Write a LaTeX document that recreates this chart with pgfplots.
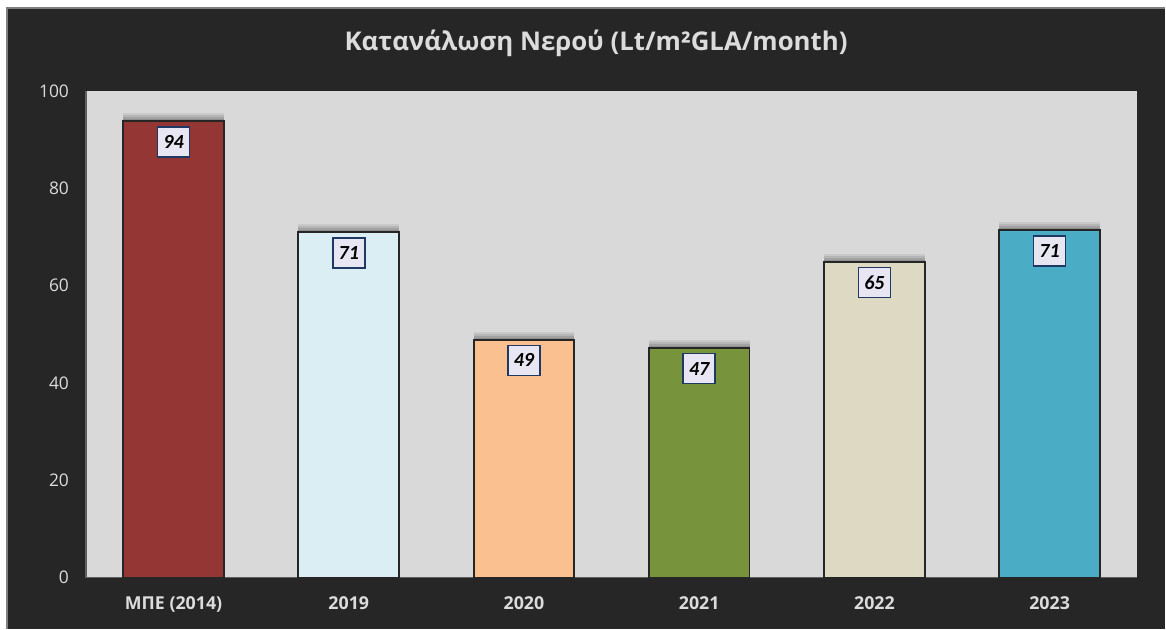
\documentclass[border=0pt]{standalone}
\usepackage{fontspec}
\setmainfont{Open Sans}
\newfontfamily\labelfont{Carlito}
\usepackage{pgfplots}
\pgfplotsset{compat=1.18}
\definecolor{bgdark}{HTML}{262626}
\definecolor{plotbg}{HTML}{D9D9D9}
\definecolor{txt}{HTML}{DCDCDC}
\definecolor{cA}{HTML}{943634}
\definecolor{cB}{HTML}{DAEEF3}
\definecolor{cC}{HTML}{FAC090}
\definecolor{cD}{HTML}{77933C}
\definecolor{cE}{HTML}{DDD9C3}
\definecolor{cF}{HTML}{4BACC6}
\definecolor{lblfill}{HTML}{E8E6F2}
\definecolor{lbldraw}{HTML}{1F3864}
\begin{document}
\begin{tikzpicture}[x=1pt,y=1pt]
% pixel (px,py) -> ((px-86)/2, (578-py)/2) pt
\fill[white] (-43,-25.5) rectangle (540,289);
\fill[bgdark] (-39.5,-25.5) rectangle (540,285);
\draw[gray, line width=0.8pt] (-39.5,-25.5) -- (-39.5,285) -- (540,285);
\useasboundingbox (-43,-25.5) rectangle (540,289);
\begin{axis}[
  at={(0,0)}, anchor=south west,
  scale only axis, width=526pt, height=243.5pt,
  xmin=-0.5, xmax=5.5, ymin=0, ymax=100,
  xtick={0,1,2,3,4,5},
  xticklabels={ΜΠΕ (2014),2019,2020,2021,2022,2023},
  ytick={0,20,40,60,80,100},
  /pgf/number format/assume math mode=true,
  axis background/.style={fill=plotbg},
  axis x line*=bottom, axis y line*=left,
  axis line style={draw=gray!75!black, line width=0.9pt},
  major tick length=0pt,
  tick style={draw=none},
  yticklabel style={font=\fontsize{8.7}{10}\selectfont, text=txt, xshift=-5pt},
  xticklabel style={font=\fontsize{8.9}{10}\selectfont\bfseries, text=txt, yshift=-6pt},
  every node near coord/.append style={anchor=north, yshift=-2.5pt,
    fill=lblfill, draw=lbldraw, line width=0.8pt, text=black,
    font=\labelfont\fontsize{10}{11}\selectfont\bfseries\itshape,
    minimum width=16pt, minimum height=15pt, inner sep=1pt},
  nodes near coords={\pgfmathprintnumber[fixed,precision=0]{\pgfplotspointmeta}},
  clip=false,
]
\pgfplotsset{barsty/.style={ybar, bar width=0.575, bar shift=0pt, draw=black!85, line width=0.9pt,
  preaction={fill=black, fill opacity=0.07, draw=none, transform canvas={yshift=4pt}},
  preaction={fill=black, fill opacity=0.09, draw=none, transform canvas={yshift=3pt}},
  preaction={fill=black, fill opacity=0.11, draw=none, transform canvas={yshift=2pt}},
  preaction={fill=black, fill opacity=0.13, draw=none, transform canvas={yshift=1pt}}}}
\addplot[barsty, fill=cA] coordinates {(0,93.8)};
\addplot[barsty, fill=cB] coordinates {(1,71.0)};
\addplot[barsty, fill=cC] coordinates {(2,48.9)};
\addplot[barsty, fill=cD] coordinates {(3,47.2)};
\addplot[barsty, fill=cE] coordinates {(4,64.9)};
\addplot[barsty, fill=cF] coordinates {(5,71.4)};
\end{axis}
\node[text=txt, font=\fontsize{12.9}{15}\selectfont\bfseries] at (255.25,267.5) {Κατανάλωση Νερού (Lt/m²GLA/month)};
\end{tikzpicture}
\end{document}
